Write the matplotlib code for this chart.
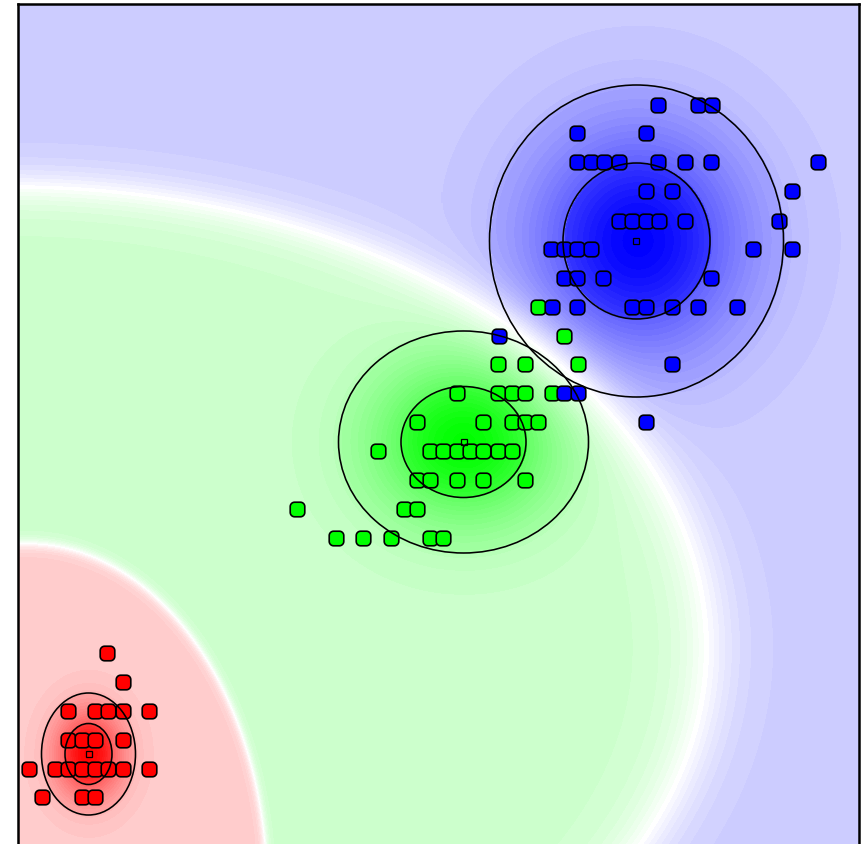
import numpy as np
import matplotlib
matplotlib.use('Agg')
import matplotlib.pyplot as plt
from matplotlib.path import Path
from matplotlib.patches import Ellipse

# Diem du lieu (toa do theo pixel cua hinh goc, truc y huong xuong)
red_x = [107, 123, 68, 95, 108, 123, 149, 68, 82, 95, 123,
         29, 55, 68, 82, 95, 108, 123, 149, 42, 82, 95]
red_y = [653, 682, 711, 711, 711, 711, 711, 740, 740, 740, 740,
         769, 769, 769, 769, 769, 769, 769, 769, 797, 797, 797]

green_x = [538, 564, 498, 525, 578, 457, 498, 512, 525, 552,
           417, 483, 512, 525, 538, 378, 430, 443, 457, 470, 483, 498, 512,
           417, 430, 457, 483, 525, 297, 404, 417, 336, 363, 391, 430, 443]
green_y = [307, 336, 364, 364, 364, 393, 393, 393, 393, 393,
           422, 422, 422, 422, 422, 451, 451, 451, 451, 451, 451, 451, 451,
           480, 480, 480, 480, 480, 509, 509, 509, 538, 538, 538, 538, 538]

blue_x = [658, 698, 712, 577, 646, 577, 591, 604, 619, 658, 685, 711, 818,
          792, 646, 672, 619, 632, 646, 659, 685, 779,
          551, 564, 577, 591, 753, 792, 564, 577, 603, 711,
          552, 577, 632, 646, 672, 698, 737, 499, 672, 564, 578, 646]
blue_y = [105, 105, 105, 133, 133, 162, 162, 162, 162, 162, 162, 162, 162,
          191, 191, 191, 221, 221, 221, 221, 221, 221,
          249, 249, 249, 249, 249, 249, 278, 278, 278, 278,
          307, 307, 307, 307, 307, 307, 307, 336, 364, 393, 393, 422]

# Tham so mo hinh Gauss (trung binh, do lech chuan) doc tu cac elip
mean_x = [88.5, 463.5, 636.5]
mean_y = [754, 442, 241]
sigma_x = [23.5, 62.5, 73.5]
sigma_y = [30.5, 55.5, 78]

colors = [(1, 0, 0), (0, 1, 0), (0, 0, 1)]
points = [(red_x, red_y), (green_x, green_y), (blue_x, blue_y)]

W, H = 865, 844
x0, x1, y0, y1 = 17.5, 859, 4.2, 844

fig = plt.figure(figsize=(W / 100, H / 100), dpi=100)
ax = fig.add_axes([x0 / W, 0, (x1 - x0) / W, (y1 - y0) / H])

# Nen: mau theo xac suat hau nghiem va mat do (co buoc nhay o 1 sigma va 2 sigma)
gx = np.arange(x0 + 0.5, x1, 1.0)
gy = np.arange(y0 + 0.5, y1, 1.0)
XX, YY = np.meshgrid(gx, gy)
counts = np.array([len(p[0]) for p in points], dtype=float)
logp = []
dens = []
for k in range(3):
    d2 = ((XX - mean_x[k]) / sigma_x[k]) ** 2 + ((YY - mean_y[k]) / sigma_y[k]) ** 2
    logp.append(-0.5 * d2 - np.log(sigma_x[k] * sigma_y[k]) + np.log(counts[k]))
    dens.append(0.7 * np.exp(-0.5 * d2) + 0.2 * (d2 < 1) + 0.1 * (d2 < 4))
logp = np.array(logp)
dens = np.array(dens)
post = np.exp(logp - logp.max(axis=0))
post /= post.sum(axis=0)
win = post.argmax(axis=0)
pmax = post.max(axis=0)
s = np.clip(2 * pmax - 1, 0, 1)
g = np.take_along_axis(dens, win[None], axis=0)[0]
a = s * (0.2 + 0.8 * g)
a = np.round(a * 40) / 40
img = np.ones(XX.shape + (3,))
for k in range(3):
    m = win == k
    for c in range(3):
        img[..., c][m] = 1 - a[m] + a[m] * colors[k][c]
ax.imshow(img, extent=(x0, x1, y1, y0), origin='upper', interpolation='nearest', zorder=0)

# Marker hinh vuong bo goc
r = 0.6
verts = []
for cx, cy, t0 in [(1, 1, 0), (-1, 1, 90), (-1, -1, 180), (1, -1, 270)]:
    for t in np.radians(np.linspace(t0, t0 + 90, 8)):
        verts.append((cx * (1 - r) + r * np.cos(t), cy * (1 - r) + r * np.sin(t)))
verts.append(verts[0])
rsquare = Path(verts, closed=True)

for k, (px, py) in enumerate(points):
    ax.plot(px, py, linestyle='none', marker=rsquare, markersize=10.5,
            markerfacecolor=colors[k], markeredgecolor='black', markeredgewidth=1.2, zorder=3)

for k in range(3):
    for n in (1, 2):
        ax.add_patch(Ellipse((mean_x[k], mean_y[k]), 2 * n * sigma_x[k], 2 * n * sigma_y[k],
                             facecolor='none', edgecolor='black', linewidth=1.15, zorder=4))
    ax.plot(mean_x[k], mean_y[k], marker='s', markersize=4.2, markerfacecolor='none',
            markeredgecolor='black', markeredgewidth=0.9, zorder=5)

ax.set_xlim(x0, x1)
ax.set_ylim(y1, y0)
ax.set_xticks([])
ax.set_yticks([])
for side in ['left', 'top', 'right']:
    ax.spines[side].set_linewidth(1.8)
ax.spines['bottom'].set_visible(False)

fig.savefig('out.png', dpi=100)
